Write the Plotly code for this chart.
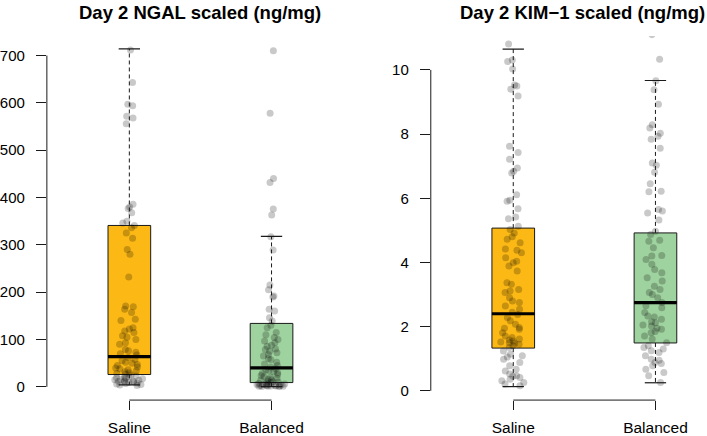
import plotly.graph_objects as go

# ---------------- data ----------------
groups = ["Saline", "Balanced"]
group_pos = [1, 2]
box_colors = ["#FCB814", "#9ED29E"]

ngal_saline = [712, 643, 597, 594, 572, 568, 556, 386, 380, 377, 368, 350, 346, 341, 336,
               325, 314, 290, 280, 232, 171, 169, 164, 157, 143, 140, 125, 122, 118, 115,
               108, 105, 100, 93, 90, 79, 76, 73, 70, 67,
               62, 58, 55, 52, 50, 47, 45, 42, 40, 38, 36, 34, 32, 30, 28, 27,
               25, 23, 21, 19, 18, 16, 15, 13, 12, 11, 10, 9, 8, 7, 6, 5, 4, 3, 12, 17, 20, 14]
ngal_balanced = [710, 578, 440, 432, 376, 363, 317, 289, 215, 205, 192, 190, 164, 160, 146, 139,
                 130, 125, 115, 110, 104, 100, 97, 93, 88, 86, 80, 79, 75, 72, 68, 65, 60, 57,
                 52, 48, 45, 42,
                 38, 36, 34, 32, 30, 28, 26, 24, 22, 20, 18, 16, 15, 14, 12, 11, 10,
                 9, 8, 7, 6, 5, 5, 4, 4, 3, 3, 2, 2, 1, 1, 1, 0.5, 0.5, 2, 3, 6]
kim_saline = [10.81, 10.31, 10.26, 10.03, 9.53, 9.50, 9.40, 9.19, 7.62, 7.43, 7.22, 6.94,
              6.84, 6.79, 6.11, 5.94, 5.91, 5.67, 5.42, 5.36, 5.13, 5.03, 4.92, 4.80, 4.72,
              4.61, 4.42, 4.38, 4.30, 4.15, 4.04, 3.99, 3.89, 3.73, 3.37, 3.32, 3.16, 3.11,
              3.06, 2.90, 2.80, 2.75, 2.64, 2.54, 2.38, 2.28, 2.18, 2.07, 1.97, 1.92, 1.81,
              1.71, 1.66, 1.61, 1.55, 1.50, 1.45, 1.40, 1.35, 1.24, 1.14, 1.09, 0.98, 0.88,
              0.78, 0.67, 0.62, 0.52, 0.47, 0.41, 0.36, 0.31, 0.26, 0.21, 0.16,
              1.52, 1.48, 1.58, 1.95, 2.45, 1.05, 0.45]
kim_balanced = [11.1, 10.33, 9.66, 9.38, 8.93, 8.29, 8.19, 8.03, 7.93, 7.84, 7.56, 7.10, 7.03,
                6.81, 6.45, 6.22, 6.20, 5.65, 5.60, 5.54, 5.32, 4.97, 4.87, 4.69, 4.66, 4.46,
                4.22, 4.20, 4.09, 3.94, 3.78, 3.68, 3.52, 3.42, 3.26, 3.16, 3.06, 2.90, 2.75,
                2.59, 2.44, 2.33, 2.23, 2.12, 2.02, 1.92, 1.81, 1.71, 1.61, 1.50, 1.40, 1.30,
                1.19, 1.09, 0.98, 0.88, 0.78, 0.67, 0.57, 0.47, 0.26,
                2.05, 2.15, 1.95, 1.85, 2.30, 1.25, 1.35, 0.95, 0.85, 3.00, 2.65]

ngal_q1 = [26, 9]
ngal_median = [64, 40]
ngal_q3 = [341, 134]
ngal_lo = [4, 0.5]
ngal_hi = [714, 318]

kim_q1 = [1.33, 1.49]
kim_median = [2.40, 2.75]
kim_q3 = [5.07, 4.92]
kim_lo = [0.13, 0.25]
kim_hi = [10.65, 9.67]

ngal_ticks = [0, 100, 200, 300, 400, 500, 600, 700]
kim_ticks = [0, 2, 4, 6, 8, 10]

titles = ["Day 2 NGAL scaled (ng/mg)", "Day 2 KIM\u22121 scaled (ng/mg)"]

# ---------------- styling ----------------
W, H = 707, 436
FONT = "Liberation Sans, Arial, Helvetica, sans-serif"
BOX_W = 0.30
CAP_HALF = 0.075
PT_COLOR = "rgba(0,0,0,0.21)"
LINE_C = "#1a1a1a"

fig = go.Figure()


def add_panel(xa, ya, series, q1, med, q3, lo, hi):
    for i, pos in enumerate(group_pos):
        fig.add_trace(go.Box(
            x=[pos], q1=[q1[i]], median=[med[i]], q3=[q3[i]],
            lowerfence=[q1[i]], upperfence=[q3[i]],
            width=BOX_W, fillcolor=box_colors[i],
            line=dict(color=LINE_C, width=1), whiskerwidth=0,
            boxpoints=False, showlegend=False, hoverinfo="skip",
            xaxis=xa, yaxis=ya))
    # whiskers (dashed)
    wx, wy = [], []
    for i, pos in enumerate(group_pos):
        wx += [pos, pos, None, pos, pos, None]
        wy += [q3[i], hi[i], None, q1[i], lo[i], None]
    fig.add_trace(go.Scatter(x=wx, y=wy, mode="lines",
                             line=dict(color=LINE_C, width=1, dash="4px,3px"),
                             showlegend=False, hoverinfo="skip", xaxis=xa, yaxis=ya))
    # caps
    cx, cy = [], []
    for i, pos in enumerate(group_pos):
        cx += [pos - CAP_HALF, pos + CAP_HALF, None, pos - CAP_HALF, pos + CAP_HALF, None]
        cy += [hi[i], hi[i], None, lo[i], lo[i], None]
    fig.add_trace(go.Scatter(x=cx, y=cy, mode="lines", line=dict(color=LINE_C, width=1.2),
                             showlegend=False, hoverinfo="skip", xaxis=xa, yaxis=ya))
    # medians
    mx, my = [], []
    for i, pos in enumerate(group_pos):
        mx += [pos - BOX_W / 2, pos + BOX_W / 2, None]
        my += [med[i], med[i], None]
    fig.add_trace(go.Scatter(x=mx, y=my, mode="lines", line=dict(color="black", width=3.2),
                             showlegend=False, hoverinfo="skip", xaxis=xa, yaxis=ya))
    # jittered points
    for i, pos in enumerate(group_pos):
        vals = series[i]
        fig.add_trace(go.Box(
            x=[pos] * len(vals), y=vals, width=BOX_W,
            boxpoints="all", jitter=0.7, pointpos=0,
            fillcolor="rgba(0,0,0,0)", line=dict(width=0, color="rgba(0,0,0,0)"),
            marker=dict(color=PT_COLOR, size=7, line=dict(width=0)),
            showlegend=False, hoverinfo="y", xaxis=xa, yaxis=ya))


add_panel("x", "y", [ngal_saline, ngal_balanced], ngal_q1, ngal_median, ngal_q3, ngal_lo, ngal_hi)
add_panel("x2", "y2", [kim_saline, kim_balanced], kim_q1, kim_median, kim_q3, kim_lo, kim_hi)

# pixel geometry (R-like plot regions)
L1, R1 = 45, 353
L2 = 430
unit_px = (R1 - L1) / 2.16
TOP, BOT = 36, 401
ydom = [1 - BOT / H, 1 - TOP / H]

tickfont = dict(family=FONT, size=15, color="black")
common_x = dict(showgrid=False, zeroline=False, showline=False, ticks="outside",
                ticklen=9, tickwidth=1, tickcolor=LINE_C, tickvals=group_pos,
                ticktext=groups, tickfont=dict(family=FONT, size=15.5, color="black"),
                ticklabelstandoff=4, fixedrange=True)
common_y = dict(showgrid=False, zeroline=False, showline=False, ticks="outside",
                ticklen=10, tickwidth=1, tickcolor=LINE_C, tickfont=tickfont,
                ticklabelstandoff=8, domain=ydom, fixedrange=True)

fig.update_layout(
    width=W, height=H, margin=dict(l=0, r=0, t=0, b=0),
    paper_bgcolor="white", plot_bgcolor="white", boxmode="overlay",
    font=dict(family=FONT, color="black"),
    xaxis=dict(domain=[L1 / W, R1 / W], range=[0.42, 2.58], anchor="y", **common_x),
    xaxis2=dict(domain=[L2 / W, 1], range=[0.42, 0.42 + (W - L2) / unit_px], anchor="y2", **common_x),
    yaxis=dict(range=[-28, 741.5], tickvals=ngal_ticks, anchor="x", **common_y),
    yaxis2=dict(range=[-0.29, 11.06], tickvals=kim_ticks, anchor="x2", **common_y),
)

# R-style axis lines spanning first to last tick
shapes = []
for xa, ya, ticks in [("x", "y", ngal_ticks), ("x2", "y2", kim_ticks)]:
    shapes.append(dict(type="line", xref=xa + " domain", yref=ya, x0=0, x1=0,
                       y0=ticks[0], y1=ticks[-1], line=dict(color=LINE_C, width=1)))
    shapes.append(dict(type="line", xref=xa, yref=ya + " domain", x0=group_pos[0],
                       x1=group_pos[-1], y0=0, y1=0, line=dict(color=LINE_C, width=1)))
fig.update_layout(shapes=shapes)

# titles centred over the R plot regions (right one kept inside the page)
centers = [(L1 + R1) / 2, 582]
for c, t in zip(centers, titles):
    fig.add_annotation(text="<b>" + t + "</b>", x=c / W, y=1 - 0.5 / H, xref="paper",
                       yref="paper", xanchor="center", yanchor="top", showarrow=False,
                       font=dict(family=FONT, size=18.5, color="black"))

fig.write_html("out.html", config={"displayModeBar": False},
               post_script="document.body.style.margin='0';document.body.style.overflow='hidden';")
